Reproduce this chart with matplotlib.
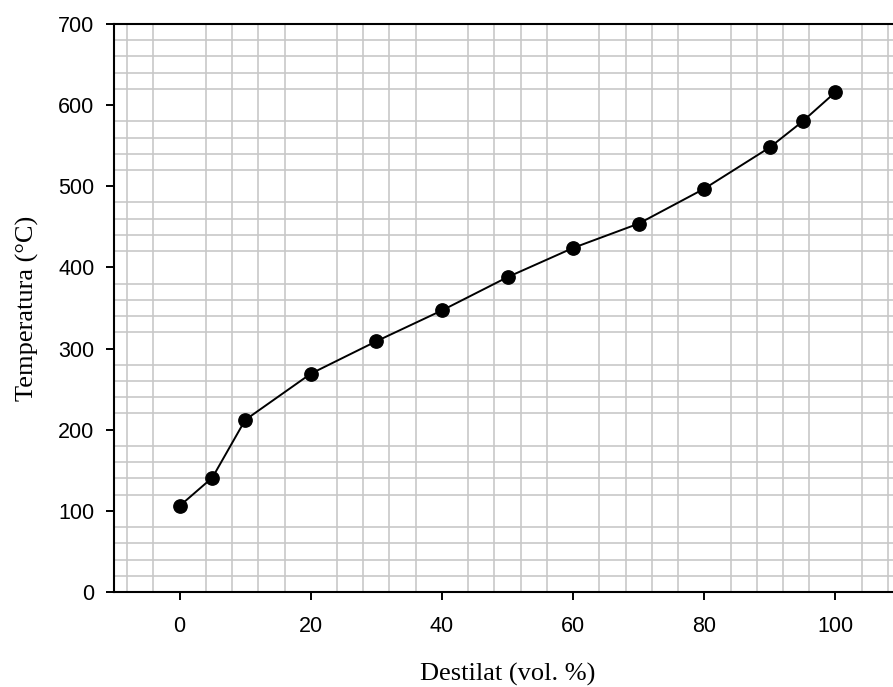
import matplotlib
matplotlib.use("Agg")
from matplotlib import pyplot as plt
import numpy as np

# destilacijska krivulja
destilat = [0, 5, 10, 20, 30, 40, 50, 60, 70, 80, 90, 95, 100]
temperatura = [106, 141, 212, 269, 309, 347, 388, 424, 454, 497, 548, 580, 616]

x_ticks = [0, 20, 40, 60, 80, 100]
y_ticks = [0, 100, 200, 300, 400, 500, 600, 700]

fig = plt.figure(figsize=(8.93, 6.87), dpi=100)
ax = fig.add_axes([0.1277, 0.1383, 0.8813, 0.8268])

ax.plot(destilat, temperatura, color="black", linewidth=1.4,
        marker="o", markersize=9.6, markerfacecolor="black", zorder=3)

ax.set_xlim(-10, 110)
ax.set_ylim(0, 700)
ax.set_xticks(x_ticks)
ax.set_yticks(y_ticks)
ax.set_xticks(np.arange(-8, 110, 4), minor=True)
ax.set_yticks(np.arange(0, 701, 20), minor=True)
ax.grid(which="minor", color="#c8c8c8", linewidth=1.2, zorder=0)
ax.tick_params(which="minor", length=0)
ax.tick_params(which="major", direction="out", length=6, width=1.4,
               labelsize=15.5, pad=8)
ax.tick_params(axis="x", which="major", pad=11)
for lab in ax.get_xticklabels() + ax.get_yticklabels():
    lab.set_fontfamily("Liberation Sans")

ax.spines["right"].set_visible(False)
for s in ["left", "bottom", "top"]:
    ax.spines[s].set_linewidth(1.5)
ax.set_axisbelow(True)

ax.set_xlabel("Destilat (vol. %)", fontfamily="Liberation Serif",
              fontsize=19, labelpad=19)
ax.set_ylabel("Temperatura (°C)", fontfamily="Liberation Serif",
              fontsize=19, labelpad=14)

fig.savefig("out.png", dpi=100)
